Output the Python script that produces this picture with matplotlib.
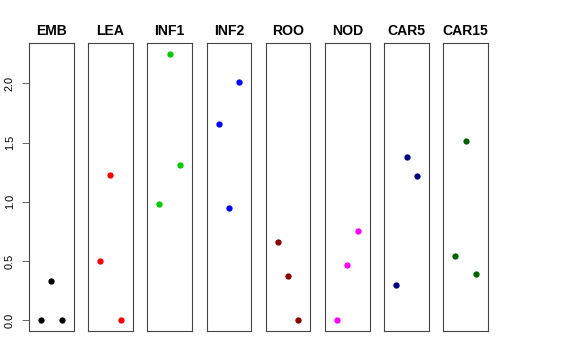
import matplotlib
matplotlib.use("Agg")
import matplotlib.pyplot as plt

tissues = ["EMB", "LEA", "INF1", "INF2", "ROO", "NOD", "CAR5", "CAR15"]
colors = ["black", "red", "#00CD00", "blue", "#8B0000", "magenta", "#000080", "#006400"]
emb = [0.0, 0.33, 0.0]
lea = [0.50, 1.23, 0.0]
inf1 = [0.98, 2.25, 1.31]
inf2 = [1.66, 0.95, 2.01]
roo = [0.66, 0.37, 0.0]
nod = [0.0, 0.465, 0.75]
car5 = [0.30, 1.375, 1.22]
car15 = [0.54, 1.515, 0.39]
series = [emb, lea, inf1, inf2, roo, nod, car5, car15]
reps = [1, 2, 3]
yticks = [0.0, 0.5, 1.0, 1.5, 2.0]
ytick_labels = ["0.0", "0.5", "1.0", "1.5", "2.0"]

plt.rcParams['font.family'] = ['Liberation Sans', 'DejaVu Sans']
fig, axes = plt.subplots(1, 8, figsize=(8, 5), dpi=72, sharey=True)
fig.subplots_adjust(left=29/576, right=488/576, top=1-43/360, bottom=1-331/360, wspace=0.329)

ymax = max(max(s) for s in series)
ymin = 0.0
rng = ymax - ymin
for i, ax in enumerate(axes):
    ax.plot(reps, series[i], 'o', color=colors[i], markersize=6.3, markeredgewidth=0)
    ax.set_xlim(2 - 2.16, 2 + 2.16)
    ax.set_ylim(ymin - 0.04 * rng, ymax + 0.04 * rng)
    ax.set_title(tissues[i], fontsize=14, fontweight='bold', pad=8)
    ax.set_xticks([])
    for sp in ax.spines.values():
        sp.set_color('#444444')
        sp.set_linewidth(1.1)
    if i == 0:
        ax.set_yticks(yticks)
        ax.set_yticklabels(ytick_labels, rotation=90, va='center', fontsize=11)
        ax.tick_params(axis='y', length=7, width=0.8, pad=7, color='#444444')
    else:
        ax.tick_params(axis='y', left=False, labelleft=False)

fig.savefig("out.png", dpi=72)
